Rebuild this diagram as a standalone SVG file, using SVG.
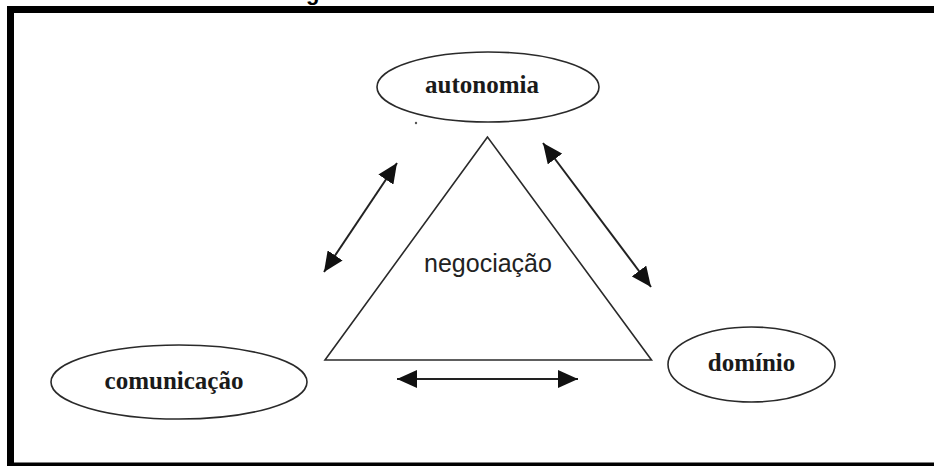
<svg xmlns="http://www.w3.org/2000/svg" width="934" height="466" viewBox="0 0 934 466">
  <style>
    .ell { fill: #fff; stroke: #2a2a2a; stroke-width: 1.6; }
    .lbl { font-family: "Liberation Serif", "Times New Roman", serif; font-weight: bold; font-size: 25px; fill: #1a1a1a; text-anchor: middle; }
    .conn { stroke: #222; stroke-width: 2; fill: none; marker-start: url(#head); marker-end: url(#head); }
    .tri { fill: #fff; stroke: #2a2a2a; stroke-width: 1.6; stroke-linejoin: miter; }
  </style>
  <defs>
    <marker id="head" viewBox="0 0 20 18" refX="20" refY="9" markerWidth="20" markerHeight="18" markerUnits="userSpaceOnUse" orient="auto-start-reverse">
      <path d="M0,0 L20,9 L0,18 z" fill="#111"/>
    </marker>
  </defs>
  <rect width="934" height="466" fill="#fff"/>
  <!-- cut-off title descender -->
  <text x="306" y="0" font-family="'Liberation Sans', Arial, sans-serif" font-weight="bold" font-size="22" fill="#000">g</text>
  <!-- frame -->
  <g id="frame" fill="#000">
    <rect x="7" y="6" width="927" height="7"/>
    <rect x="7" y="6" width="7" height="460"/>
    <rect x="7" y="462.5" width="927" height="3.5"/>
  </g>
  <g id="negociacao">
    <polygon class="tri" points="487.5,137 325,360 651.5,360"/>
    <text x="488" y="272" font-family="'Liberation Sans', Arial, sans-serif" font-size="25" fill="#222" text-anchor="middle">negociação</text>
  </g>
  <g id="autonomia">
    <ellipse class="ell" cx="488" cy="87" rx="111" ry="35"/>
    <text class="lbl" x="482" y="93">autonomia</text>
    <circle cx="416" cy="123" r="1.2" fill="#555"/>
  </g>
  <g id="comunicacao">
    <ellipse class="ell" cx="179" cy="382" rx="128" ry="37"/>
    <text class="lbl" x="174" y="389">comunicação</text>
  </g>
  <g id="dominio">
    <ellipse class="ell" cx="751.5" cy="364.5" rx="83.5" ry="37.5"/>
    <text class="lbl" x="751.5" y="371">domínio</text>
  </g>
  <g id="connectors">
    <line class="conn" x1="397" y1="163" x2="324" y2="272"/>
    <line class="conn" x1="543" y1="143" x2="651" y2="287"/>
    <line class="conn" x1="397" y1="379" x2="578" y2="379"/>
  </g>
</svg>
